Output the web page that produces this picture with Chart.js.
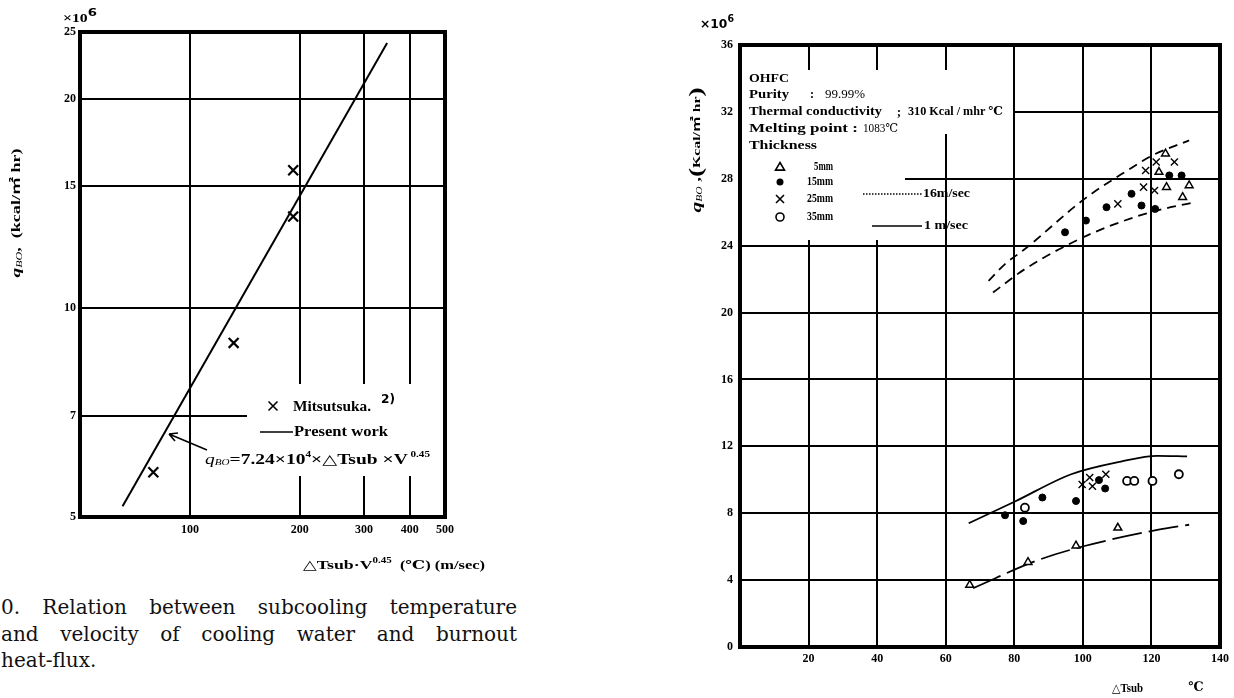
<!DOCTYPE html>
<html>
<head>
<meta charset="utf-8">
<script src="https://cdn.jsdelivr.net/npm/chart.js@4.4.1/dist/chart.umd.min.js"></script>
<style>
body { margin: 0; background: #fff; width: 1234px; height: 698px; overflow: hidden; position: relative; font-family: "Liberation Serif", serif; }
#left { position: absolute; left: 0; top: 0; }
#right { position: absolute; left: 660px; top: 0; }
.cap { position: absolute; left: 1px; top: 594px; width: 516px; font-family: "DejaVu Serif", serif; font-size: 20px; line-height: 26.5px; color: #111; }
.j { text-align: justify; text-align-last: justify; }
</style>
</head>
<body>
<canvas id="left" width="520" height="590"></canvas>
<canvas id="right" width="574" height="698"></canvas>
<div class="cap">
  <div class="j">0. Relation between subcooling temperature</div>
  <div class="j">and velocity of cooling water and burnout</div>
  <div>heat-flux.</div>
</div>
<script>
// left chart: dTsub*V^0.45 vs burnout heat flux (x10^6 kcal/m2 hr), log-log
const fitX = [65.4, 347];
const fitY = [5.18, 24.1];
const mitsuX = [79.4, 131.8, 191.9, 191.9];
const mitsuY = [5.80, 8.91, 15.8, 13.55];
const leftXTicks = [100, 200, 300, 400, 500];
const leftYTicks = [5, 7, 10, 15, 20, 25];

// right chart: OHFC copper, dTsub vs burnout heat flux
const t5X = [67.0, 84.0, 98.0, 110.2, 122.2, 124.1, 124.4, 129.1, 131.0];
const t5Y = [3.71, 5.07, 6.06, 7.13, 28.4, 29.5, 27.5, 26.9, 27.6];
const t15X = [77.3, 82.6, 88.2, 98.0, 104.7, 106.5, 94.8, 100.9, 106.9, 114.2, 117.1, 121.1, 125.2, 128.8];
const t15Y = [7.88, 7.53, 8.94, 8.73, 9.98, 9.48, 24.8, 25.5, 26.3, 27.1, 26.4, 26.2, 28.2, 28.2];
const t25X = [99.8, 102.0, 102.8, 106.7, 110.2, 117.7, 120.9, 118.3, 121.4, 126.7];
const t25Y = [9.72, 10.14, 9.61, 10.33, 26.5, 27.5, 27.3, 28.5, 29.0, 29.0];
const t35X = [83.1, 112.9, 115.0, 120.3, 128.0];
const t35Y = [8.33, 9.93, 9.93, 9.93, 10.33];

// band limits
const hi16X = [72.5, 77.3, 83.1, 100.5, 113, 120.3, 131];
const hi16Y = [21.9, 22.9, 23.8, 26.8, 28.5, 29.4, 30.3];
const lo16X = [73.8, 83.1, 100.1, 115, 125.6, 132.9];
const lo16Y = [21.2, 22.6, 24.5, 25.7, 26.3, 26.6];
const hi1X = [66.7, 80.2, 96.6, 111.1, 121.7, 130.4];
const hi1Y = [7.40, 8.7, 10.33, 11.09, 11.43, 11.4];
const lo1X = [68.0, 87.0, 100.5, 121.7, 131];
const lo1Y = [3.52, 5.2, 6.04, 7.0, 7.31];

const rightXTicks = [20, 40, 60, 80, 100, 120, 140];
const rightYTicks = [0, 4, 8, 12, 16, 20, 24, 28, 32, 36];

const pts = (xs, ys) => xs.map((x, i) => ({ x: x, y: ys[i] }));
const tickFont = { family: '"Liberation Serif", serif', size: 12, weight: 'bold' };
const SERIF = '"Liberation Serif", "DejaVu Serif", "Noto Sans CJK JP", serif';

// draw a run of text pieces (font, baseline shift), returns the width
function run(ctx, parts, x, y, measureOnly) {
  let cx = x;
  parts.forEach(p => {
    ctx.font = p.f;
    if (!measureOnly) ctx.fillText(p.s, cx, y + (p.dy || 0));
    cx += ctx.measureText(p.s).width;
  });
  return cx - x;
}
function put(ctx, s, x, y, font, w, align) {
  ctx.save();
  ctx.font = font;
  ctx.fillStyle = '#000';
  ctx.textBaseline = 'middle';
  const nat = ctx.measureText(s).width;
  const k = w ? Math.min(1.5, Math.max(0.7, w / nat)) : 1;
  const ww = nat * k;
  let x0 = x;
  if (align === 'right') x0 = x - ww;
  if (align === 'center') x0 = x - ww / 2;
  ctx.translate(x0, y);
  ctx.scale(k, 1);
  ctx.fillText(s, 0, 0);
  ctx.restore();
}
function runFit(ctx, parts, x, y, w, rot) {
  ctx.save();
  ctx.fillStyle = '#000';
  ctx.textBaseline = 'middle';
  const nat = run(ctx, parts, 0, 0, true);
  const k = w ? w / nat : 1;
  ctx.translate(x, y);
  if (rot) ctx.rotate(rot);
  if (rot) ctx.translate(-nat * k / 2, 0);
  ctx.scale(k, 1);
  run(ctx, parts, 0, 0, false);
  ctx.restore();
}
function frame(ctx, a, lw) {
  ctx.save();
  ctx.strokeStyle = '#000';
  ctx.lineWidth = lw;
  ctx.strokeRect(a.left, a.top, a.right - a.left, a.bottom - a.top);
  ctx.restore();
}
function mark(ctx, style, x, y, r) {
  ctx.save();
  ctx.strokeStyle = '#000';
  ctx.fillStyle = '#000';
  ctx.lineWidth = 1.6;
  ctx.beginPath();
  if (style === 'triangle') {
    ctx.moveTo(x, y - r); ctx.lineTo(x + r, y + r * 0.7); ctx.lineTo(x - r, y + r * 0.7); ctx.closePath(); ctx.stroke();
  } else if (style === 'dot') {
    ctx.arc(x, y, r, 0, Math.PI * 2); ctx.fill();
  } else if (style === 'ring') {
    ctx.arc(x, y, r, 0, Math.PI * 2); ctx.stroke();
  } else {
    ctx.moveTo(x - r, y - r); ctx.lineTo(x + r, y + r); ctx.moveTo(x + r, y - r); ctx.lineTo(x - r, y + r); ctx.stroke();
  }
  ctx.restore();
}

const leftDeco = {
  id: 'leftDeco',
  beforeDatasetsDraw(chart) {
    const ctx = chart.ctx;
    ctx.save();
    ctx.fillStyle = '#fff';
    ctx.fillRect(247, 384, 196, 92);
    ctx.restore();
  },
  afterDatasetsDraw(chart) {
    const ctx = chart.ctx;
    frame(ctx, chart.chartArea, 4);
    // legend
    mark(ctx, 'cross', 273, 406, 4.5);
    put(ctx, 'Mitsutsuka.', 293, 407, 'bold 14px ' + SERIF, 78);
    put(ctx, '2)', 381, 400, 'bold 12px "DejaVu Sans", sans-serif', 14);
    ctx.save();
    ctx.lineWidth = 1.5;
    ctx.beginPath(); ctx.moveTo(260, 432); ctx.lineTo(293, 432); ctx.stroke();
    ctx.restore();
    put(ctx, 'Present work', 294, 432, 'bold 14px ' + SERIF, 94);
    runFit(ctx, [
      { s: 'q', f: 'italic 14px ' + SERIF },
      { s: 'BO', f: 'italic 8px ' + SERIF, dy: 3 },
      { s: '=7.24×10', f: 'bold 14px ' + SERIF },
      { s: '4', f: 'bold 8px ' + SERIF, dy: -5 },
      { s: '×△Tsub ×V', f: 'bold 14px ' + SERIF },
      { s: ' 0.45', f: 'bold 8px ' + SERIF, dy: -5 }
    ], 205, 460, 225);
    // arrow to the line
    ctx.save();
    ctx.lineWidth = 1.6;
    ctx.beginPath();
    ctx.moveTo(207, 450); ctx.lineTo(169, 434);
    ctx.moveTo(169, 434); ctx.lineTo(178, 433);
    ctx.moveTo(169, 434); ctx.lineTo(175, 441);
    ctx.stroke();
    ctx.restore();
    // axis titles
    runFit(ctx, [
      { s: '△Tsub·V', f: 'bold 13px ' + SERIF },
      { s: '0.45', f: 'bold 8px ' + SERIF, dy: -5 },
      { s: '  (℃) (m/sec)', f: 'bold 12px ' + SERIF }
    ], 303, 566, 182);
    runFit(ctx, [
      { s: '×10', f: 'bold 13px ' + SERIF },
      { s: '6', f: 'bold 11px "DejaVu Sans", sans-serif', dy: -6 }
    ], 63, 19, 34);
    runFit(ctx, [
      { s: 'q', f: 'italic bold 13px ' + SERIF },
      { s: 'BO', f: 'italic 8px ' + SERIF, dy: 3 },
      { s: ',  (kcal/㎡ hr)', f: 'bold 12px ' + SERIF }
    ], 17, 213, 129, -Math.PI / 2);
  }
};

new Chart(document.getElementById('left'), {
  type: 'scatter',
  data: {
    datasets: [
      { label: 'Present work', data: pts(fitX, fitY), showLine: true, pointRadius: 0,
        borderColor: '#000', borderWidth: 2, order: 2 },
      { label: 'Mitsutsuka', data: pts(mitsuX, mitsuY), pointStyle: 'crossRot', pointRadius: 7,
        borderColor: '#000', borderWidth: 2.2, order: 1 }
    ]
  },
  options: {
    responsive: false,
    animation: false,
    layout: { padding: { top: 32, right: 75, left: 0, bottom: 0 } },
    plugins: { legend: { display: false }, tooltip: { enabled: false } },
    scales: {
      x: {
        type: 'logarithmic', min: 50, max: 500,
        afterBuildTicks: s => { s.ticks = leftXTicks.map(v => ({ value: v })); },
        afterFit: s => { s.height = 73; },
        ticks: { autoSkip: false, maxRotation: 0, padding: 6, color: '#000', font: tickFont, callback: v => String(v) },
        grid: { color: c => (c.tick && c.tick.value >= 500) ? 'rgba(0,0,0,0)' : '#000', lineWidth: 2, drawTicks: false },
        border: { display: false }
      },
      y: {
        type: 'logarithmic', min: 5, max: 25,
        afterBuildTicks: s => { s.ticks = leftYTicks.map(v => ({ value: v })); },
        afterFit: s => { s.width = 80; },
        ticks: { autoSkip: false, padding: 4, color: '#000', font: tickFont, callback: v => String(v) },
        grid: { color: '#000', lineWidth: 2, drawTicks: false },
        border: { display: false }
      }
    }
  },
  plugins: [leftDeco]
});

const rightDeco = {
  id: 'rightDeco',
  beforeDatasetsDraw(chart) {
    const ctx = chart.ctx;
    ctx.save();
    ctx.fillStyle = '#fff';
    ctx.fillRect(81, 70, 272, 64);
    ctx.fillRect(81, 134, 164, 106);
    ctx.restore();
    const B = 'bold 12px ' + SERIF;
    put(ctx, 'OHFC', 89, 79, B, 40);
    put(ctx, 'Purity', 89, 95, B, 40);
    put(ctx, ':', 150, 95, B);
    put(ctx, '99.99%', 165, 95, '12px ' + SERIF, 40);
    put(ctx, 'Thermal conductivity', 89, 112, B, 133);
    put(ctx, ';', 237, 113, B);
    put(ctx, '310 Kcal / mhr ℃', 248, 112, B, 95);
    put(ctx, 'Melting point :', 89, 129, B, 109);
    put(ctx, '1083℃', 203, 129, '12px ' + SERIF, 35);
    put(ctx, 'Thickness', 89, 146, B, 68);
    mark(ctx, 'triangle', 120, 167, 4.5);
    mark(ctx, 'dot', 120, 182, 3.5);
    mark(ctx, 'cross', 120, 199, 4);
    mark(ctx, 'ring', 120, 217, 4);
    put(ctx, '5mm', 173, 167, 'bold 12px ' + SERIF, 19, 'right');
    put(ctx, '15mm', 173, 182, 'bold 12px ' + SERIF, 26, 'right');
    put(ctx, '25mm', 173, 199, 'bold 12px ' + SERIF, 26, 'right');
    put(ctx, '35mm', 173, 217, 'bold 12px ' + SERIF, 26, 'right');
    ctx.save();
    ctx.lineWidth = 1.5;
    ctx.setLineDash([1.5, 1.5]);
    ctx.beginPath(); ctx.moveTo(203, 194); ctx.lineTo(263, 194); ctx.stroke();
    ctx.setLineDash([]);
    ctx.beginPath(); ctx.moveTo(212, 226); ctx.lineTo(262, 226); ctx.stroke();
    ctx.restore();
    put(ctx, '16m/sec', 263, 194, B, 47);
    put(ctx, '1 m/sec', 264, 226, B, 44);
  },
  afterDatasetsDraw(chart) {
    const ctx = chart.ctx;
    frame(ctx, chart.chartArea, 4);
    runFit(ctx, [
      { s: '×10', f: 'bold 13px "DejaVu Sans", sans-serif' },
      { s: '6', f: 'bold 10px "DejaVu Sans", sans-serif', dy: -6 }
    ], 40, 25, 34);
    put(ctx, '△Tsub', 452, 689, 'bold 12px ' + SERIF, 31);
    put(ctx, '℃', 528, 688, 'bold 13px ' + SERIF);
    runFit(ctx, [
      { s: 'q', f: 'italic bold 15px ' + SERIF },
      { s: 'BO', f: 'italic 8px ' + SERIF, dy: 3 },
      { s: ' ,', f: 'bold 13px ' + SERIF },
      { s: '(', f: 'bold 19px ' + SERIF },
      { s: 'Kcal/㎡ hr', f: 'bold 11px ' + SERIF },
      { s: ')', f: 'bold 19px ' + SERIF }
    ], 37, 150, 125, -Math.PI / 2);
  }
};

const band = (d, dash, order) => ({ data: d, showLine: true, pointRadius: 0, borderColor: '#000',
  borderWidth: 1.8, borderDash: dash, cubicInterpolationMode: 'monotone', order: order });

new Chart(document.getElementById('right'), {
  type: 'scatter',
  data: {
    datasets: [
      Object.assign({ label: '16 m/sec upper' }, band(pts(hi16X, hi16Y), [9, 6], 5)),
      Object.assign({ label: '16 m/sec lower' }, band(pts(lo16X, lo16Y), [9, 6], 5)),
      Object.assign({ label: '1 m/sec upper' }, band(pts(hi1X, hi1Y), [], 5)),
      Object.assign({ label: '1 m/sec lower' }, band(pts(lo1X, lo1Y), [30, 7], 5)),
      { label: '5mm', data: pts(t5X, t5Y), pointStyle: 'triangle', pointRadius: 4.5,
        backgroundColor: '#fff', borderColor: '#000', borderWidth: 1.5, order: 1 },
      { label: '15mm', data: pts(t15X, t15Y), pointStyle: 'circle', pointRadius: 3.5,
        backgroundColor: '#000', borderColor: '#000', borderWidth: 1, order: 1 },
      { label: '25mm', data: pts(t25X, t25Y), pointStyle: 'crossRot', pointRadius: 5,
        borderColor: '#000', borderWidth: 1.4, order: 1 },
      { label: '35mm', data: pts(t35X, t35Y), pointStyle: 'circle', pointRadius: 4,
        backgroundColor: '#fff', borderColor: '#000', borderWidth: 1.8, order: 1 }
    ]
  },
  options: {
    responsive: false,
    animation: false,
    layout: { padding: { top: 45, right: 12, left: 0, bottom: 0 } },
    plugins: { legend: { display: false }, tooltip: { enabled: false } },
    scales: {
      x: {
        type: 'linear', min: 0, max: 140,
        afterBuildTicks: s => { s.ticks = rightXTicks.map(v => ({ value: v })); },
        afterFit: s => { s.height = 51; },
        ticks: { autoSkip: false, maxRotation: 0, padding: 5, color: '#000', font: tickFont },
        grid: { color: '#000', lineWidth: 2, drawTicks: false },
        border: { display: false }
      },
      y: {
        type: 'linear', min: 0, max: 36,
        afterBuildTicks: s => { s.ticks = rightYTicks.map(v => ({ value: v })); },
        afterFit: s => { s.width = 80; },
        ticks: { autoSkip: false, padding: 7, color: '#000', font: tickFont },
        grid: { color: '#000', lineWidth: 2, drawTicks: false },
        border: { display: false }
      }
    }
  },
  plugins: [rightDeco]
});
</script>
</body>
</html>
